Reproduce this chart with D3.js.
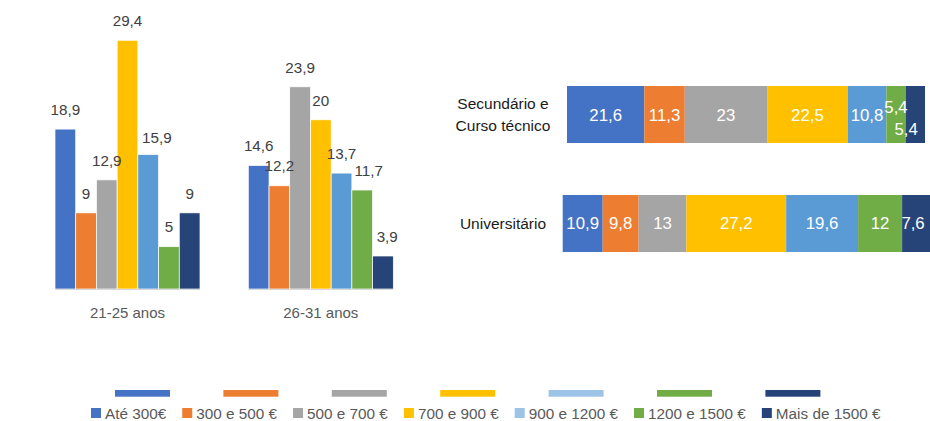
<!DOCTYPE html>
<html>
<head>
<meta charset="utf-8">
<script src="https://cdn.jsdelivr.net/npm/d3@7"></script>
<style>
  html, body { margin: 0; padding: 0; background: #fff; }
  svg { display: block; }
  text { font-family: "Liberation Sans", Arial, sans-serif; }
</style>
</head>
<body>
<svg id="chart" width="930" height="421"></svg>
<script>
// ---------- data ----------
const incomeBands = ["Até 300€", "300 e 500 €", "500 e 700 €", "700 e 900 €", "900 e 1200 €", "1200 e 1500 €", "Mais de 1500 €"];
const ageGroups = ["21-25 anos", "26-31 anos"];
const age2125 = [18.9, 9, 12.9, 29.4, 15.9, 5, 9];
const age2631 = [14.6, 12.2, 23.9, 20, 13.7, 11.7, 3.9];
const eduLevels = ["Secundário e\nCurso técnico", "Universitário"];
const eduSecundario = [21.6, 11.3, 23, 22.5, 10.8, 5.4, 5.4];
const eduUniversitario = [10.9, 9.8, 13, 27.2, 19.6, 12, 7.6];

// ---------- styles ----------
const barColors = ["#4472C4", "#ED7D31", "#A5A5A5", "#FFC000", "#5B9BD5", "#70AD47", "#264478"];
const legendColors = ["#4472C4", "#ED7D31", "#A5A5A5", "#FFC000", "#9DC3E6", "#70AD47", "#264478"];
const fmt = v => String(v).replace(".", ",");

const svg = d3.select("#chart");

// ---------- left chart: grouped columns ----------
const ageValues = [age2125, age2631];
const x0 = d3.scaleBand().domain(ageGroups).range([55, 393.3]).paddingInner(0.25).paddingOuter(0);
const x1 = d3.scaleBand().domain(incomeBands).range([0, x0.bandwidth()]).padding(0);
const yL = d3.scaleLinear().domain([0, 30]).range([289, 35.2]);
// label nudges (Excel overlap avoidance)
const leftNudge = {"0|4": [8.7, 2.5], "1|5": [6.5, 0], "1|6": [4.3, 0]};

const left = svg.append("g");
ageGroups.forEach((g, gi) => {
  const gg = left.append("g").attr("transform", `translate(${x0(g)},0)`);
  gg.selectAll("rect").data(ageValues[gi]).join("rect")
    .attr("x", (d, i) => x1(incomeBands[i]))
    .attr("width", x1.bandwidth())
    .attr("y", d => yL(d))
    .attr("height", d => yL(0) - yL(d))
    .attr("fill", (d, i) => barColors[i])
    .attr("stroke", "#fff").attr("stroke-width", 0.7);
  gg.append("line").attr("x1", 0).attr("x2", x0.bandwidth())
    .attr("y1", yL(0) + 0.5).attr("y2", yL(0) + 0.5)
    .attr("stroke", "#d9d9d9").attr("stroke-width", 1);
  gg.selectAll("text.val").data(ageValues[gi]).join("text").attr("class", "val")
    .attr("x", (d, i) => x1(incomeBands[i]) + x1.bandwidth() / 2 + ((leftNudge[gi + "|" + i] || [0, 0])[0]))
    .attr("y", (d, i) => yL(d) - 14.3 + ((leftNudge[gi + "|" + i] || [0, 0])[1]))
    .attr("text-anchor", "middle")
    .attr("font-size", 15.2).attr("fill", "#404040")
    .text(d => fmt(d));
  gg.append("text")
    .attr("x", x0.bandwidth() / 2).attr("y", 317.5)
    .attr("text-anchor", "middle").attr("font-size", 15).attr("fill", "#595959")
    .text(g);
});

// ---------- right chart: stacked bars ----------
const eduValues = [eduSecundario, eduUniversitario];
const rowRanges = [[567, 925], [562.7, 930]];
const yR = d3.scaleBand().domain(eduLevels).range([86, 252]).paddingInner(0.477).paddingOuter(0);
const rightNudge = {"0|5": [0, -7.5], "0|6": [-9.2, 14], "1|6": [-3, 0]};

const right = svg.append("g");
eduLevels.forEach((lvl, ri) => {
  const vals = eduValues[ri];
  const xs = d3.scaleLinear().domain([0, d3.sum(vals)]).range(rowRanges[ri]);
  const stacked = [];
  let acc = 0;
  vals.forEach((v, i) => { stacked.push({v, i, x0: acc, x1: acc + v}); acc += v; });
  const rg = right.append("g");
  rg.selectAll("rect").data(stacked).join("rect")
    .attr("x", d => xs(d.x0))
    .attr("width", d => xs(d.x1) - xs(d.x0))
    .attr("y", yR(lvl))
    .attr("height", yR.bandwidth())
    .attr("fill", d => barColors[d.i]);
  rg.selectAll("text.val").data(stacked).join("text").attr("class", "val")
    .attr("x", d => (xs(d.x0) + xs(d.x1)) / 2 + ((rightNudge[ri + "|" + d.i] || [0, 0])[0]))
    .attr("y", d => yR(lvl) + yR.bandwidth() / 2 + 6 + ((rightNudge[ri + "|" + d.i] || [0, 0])[1]))
    .attr("text-anchor", "middle")
    .attr("font-size", 16.8).attr("fill", "#fff")
    .text(d => fmt(d.v));
  const lines = lvl.split("\n");
  const cy = yR(lvl) + yR.bandwidth() / 2;
  const t = rg.append("text").attr("text-anchor", "middle")
    .attr("font-size", 15.5).attr("fill", "#1a1a1a");
  lines.forEach((ln, li) => {
    t.append("tspan").attr("x", 503)
      .attr("y", cy + 5.5 + (li - (lines.length - 1) / 2) * 22)
      .text(ln);
  });
});

// ---------- legend ----------
const legendLines = d3.scaleBand().domain(incomeBands).range([88.3, 847.1]);
svg.append("g").selectAll("rect").data(incomeBands).join("rect")
  .attr("x", d => legendLines(d) + legendLines.bandwidth() / 2 - 27.5)
  .attr("width", 55)
  .attr("y", 390).attr("height", 6.7)
  .attr("fill", (d, i) => legendColors[i]);

const lg = svg.append("g");
let lx = 91;
incomeBands.forEach((b, i) => {
  lg.append("rect").attr("x", lx).attr("y", 408).attr("width", 10).attr("height", 10)
    .attr("fill", legendColors[i]);
  const t = lg.append("text").attr("x", lx + 14).attr("y", 418.5)
    .attr("font-size", 15.3).attr("fill", "#595959").text(b);
  lx += 14 + t.node().getComputedTextLength() + 16;
});
</script>
</body>
</html>
